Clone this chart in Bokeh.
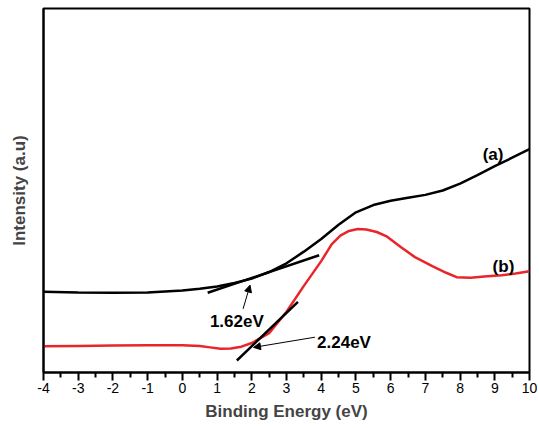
from bokeh.plotting import figure
from bokeh.models import Range1d, FixedTicker, Arrow, NormalHead, Label
from bokeh.embed import file_html
from bokeh.resources import INLINE

# Curve (a)
xa = [-4, -3, -2, -1, 0, 0.5, 1, 1.5, 2, 2.5, 3, 3.5, 4, 4.5, 5, 5.5, 6, 6.5, 7, 7.5, 8, 8.5, 9, 9.5, 10]
ya = [22.2, 22.0, 21.9, 22.0, 22.5, 23.0, 23.6, 24.6, 25.8, 27.6, 30.0, 33.2, 36.7, 40.6, 44.0, 46.0, 47.2, 48.0, 48.8, 50.0, 51.9, 54.2, 56.7, 59.0, 61.4]
# Curve (b)
xb = [-4, -3, -2, -1, 0, 0.5, 0.8, 1.1, 1.4, 1.7, 2, 2.5, 3, 3.5, 4, 4.3, 4.55, 4.8, 5.05, 5.3, 5.6, 5.9, 6.3, 6.7, 7.2, 7.6, 7.9, 8.3, 8.7, 9.2, 9.6, 10]
yb = [7.2, 7.3, 7.4, 7.5, 7.5, 7.3, 6.9, 6.5, 6.6, 7.1, 8.1, 10.8, 16.7, 23.8, 30.6, 35.2, 37.6, 38.9, 39.4, 39.3, 38.6, 37.3, 34.4, 31.7, 29.2, 27.4, 26.2, 26.0, 26.4, 26.7, 27.2, 27.8]
# Tangent lines
tan_a_x = [0.73, 3.94]
tan_a_y = [21.9, 32.2]
tan_b_x = [1.57, 3.33]
tan_b_y = [3.3, 19.4]
# Axis ticks
x_ticks = [-4, -3, -2, -1, 0, 1, 2, 3, 4, 5, 6, 7, 8, 9, 10]
x_tick_labels = ["-4", "-3", "-2", "-1", "0", "1", "2", "3", "4", "5", "6", "7", "8", "9", "10"]
x_minor_ticks = [-3.5, -2.5, -1.5, -0.5, 0.5, 1.5, 2.5, 3.5, 4.5, 5.5, 6.5, 7.5, 8.5, 9.5]
# Annotations
labels_txt = ["1.62eV", "2.24eV", "(a)", "(b)"]
labels_x = [1.57, 3.88, 8.95, 9.25]
labels_y = [13.9, 8.3, 60.0, 29.2]
arrow_a = (1.75, 17.5, 1.95, 24.0)   # x_start, y_start, x_end, y_end
arrow_b = (3.82, 9.7, 2.05, 6.9)

p = figure(width=537, height=423, output_backend="svg", toolbar_location=None,
           x_range=Range1d(-4, 10), y_range=Range1d(0, 100),
           min_border_left=43, min_border_right=8, min_border_top=8, min_border_bottom=40)
p.background_fill_color = "white"
p.border_fill_color = "white"
p.grid.visible = False
p.outline_line_color = "black"
p.outline_line_width = 2

p.line(xa, ya, line_color="black", line_width=2.5)
p.line(xb, yb, line_color="#e8262a", line_width=2.5)
p.line(tan_a_x, tan_a_y, line_color="black", line_width=2.5)
p.line(tan_b_x, tan_b_y, line_color="black", line_width=2.5)

for a in (arrow_a, arrow_b):
    p.add_layout(Arrow(end=NormalHead(size=7, fill_color="black", line_color="black"),
                       x_start=a[0], y_start=a[1], x_end=a[2], y_end=a[3],
                       line_color="black", line_width=1))

aligns = ["center", "left", "center", "center"]
for t, x, y, al in zip(labels_txt, labels_x, labels_y, aligns):
    p.add_layout(Label(x=x, y=y, text=t, text_font="Liberation Sans", text_font_style="bold",
                       text_font_size="17px", text_align=al, text_baseline="middle", text_color="black"))

xa_ax = p.xaxis[0]
xa_ax.ticker = FixedTicker(ticks=x_ticks, minor_ticks=x_minor_ticks)
xa_ax.major_label_overrides = dict(zip(x_ticks, x_tick_labels))
xa_ax.axis_line_width = 2
xa_ax.major_tick_line_width = 2
xa_ax.minor_tick_line_width = 2
xa_ax.major_tick_in = 0
xa_ax.major_tick_out = 8
xa_ax.minor_tick_in = 0
xa_ax.minor_tick_out = 5
xa_ax.major_label_standoff = 2
xa_ax.major_label_text_font = "Liberation Sans"
xa_ax.major_label_text_font_size = "14px"
xa_ax.major_label_text_color = "black"
xa_ax.axis_label = "Binding Energy (eV)"
xa_ax.axis_label_text_font = "Liberation Sans"
xa_ax.axis_label_text_font_style = "bold"
xa_ax.axis_label_text_font_size = "17px"
xa_ax.axis_label_standoff = 6

ya_ax = p.yaxis[0]
ya_ax.ticker = FixedTicker(ticks=[])
ya_ax.axis_line_width = 2
ya_ax.major_tick_line_color = None
ya_ax.minor_tick_line_color = None
ya_ax.major_label_text_font_size = "0px"
ya_ax.axis_label = "Intensity (a.u)"
ya_ax.axis_label_text_font = "Liberation Sans"
ya_ax.axis_label_text_font_style = "bold"
ya_ax.axis_label_text_font_size = "17px"
ya_ax.axis_label_standoff = 15

open("out.html", "w").write(file_html(p, INLINE))
